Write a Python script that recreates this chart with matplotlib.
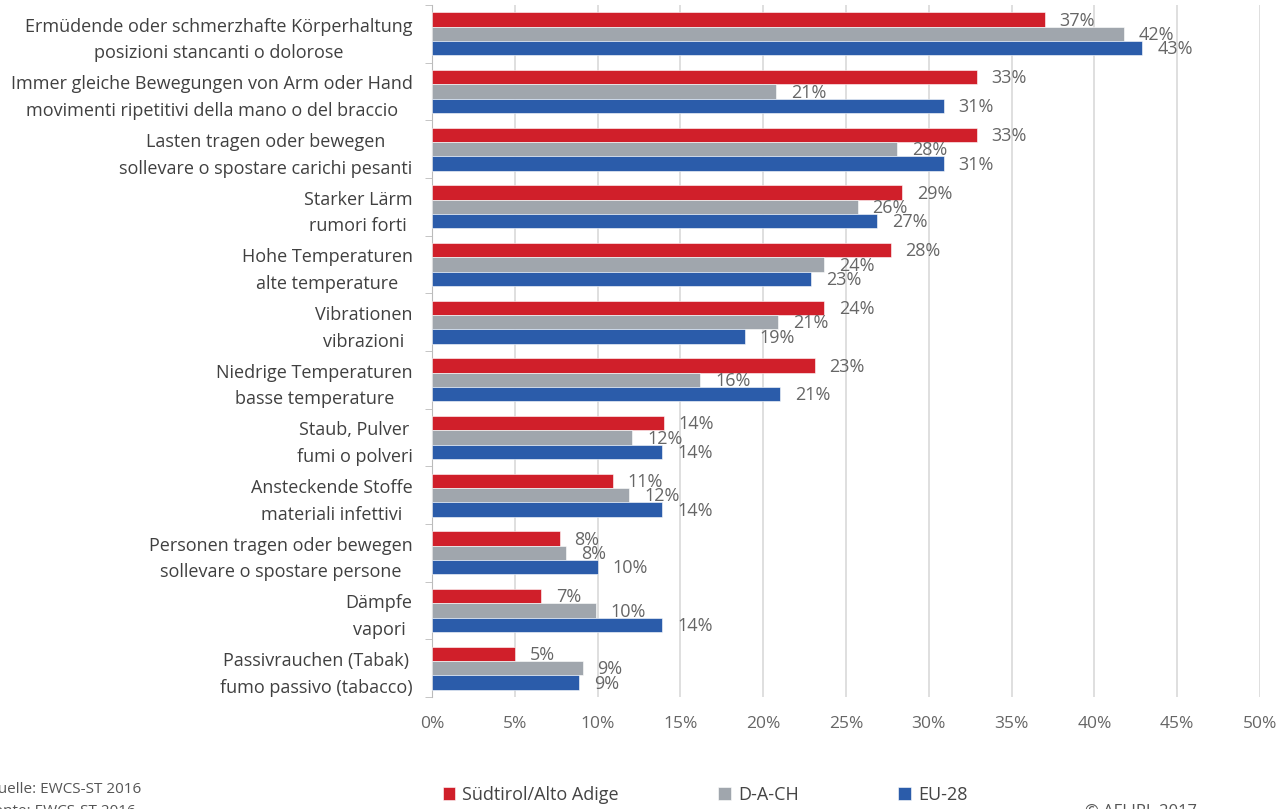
import matplotlib
matplotlib.use("Agg")
import matplotlib.pyplot as plt
import numpy as np

plt.rcParams['font.family'] = ['Open Sans', 'DejaVu Sans']

categories = [
    "Ermüdende oder schmerzhafte Körperhaltung\nposizioni stancanti o dolorose",
    "Immer gleiche Bewegungen von Arm oder Hand\nmovimenti ripetitivi della mano o del braccio",
    "Lasten tragen oder bewegen\nsollevare o spostare carichi pesanti",
    "Starker Lärm\nrumori forti",
    "Hohe Temperaturen\nalte temperature",
    "Vibrationen\nvibrazioni",
    "Niedrige Temperaturen\nbasse temperature",
    "Staub, Pulver\nfumi o polveri",
    "Ansteckende Stoffe\nmateriali infettivi",
    "Personen tragen oder bewegen\nsollevare o spostare persone",
    "Dämpfe\nvapori",
    "Passivrauchen (Tabak)\nfumo passivo (tabacco)",
]
series_names = ["Südtirol/Alto Adige", "D-A-CH", "EU-28"]
suedtirol = [37.0, 32.9, 32.9, 28.4, 27.7, 23.7, 23.1, 14.0, 10.9, 7.7, 6.6, 5.0]
dach = [41.8, 20.8, 28.1, 25.7, 23.7, 20.9, 16.2, 12.1, 11.9, 8.1, 9.9, 9.1]
eu28 = [42.9, 30.9, 30.9, 26.9, 22.9, 18.9, 21.0, 13.9, 13.9, 10.0, 13.9, 8.9]
labels_s = [37, 33, 33, 29, 28, 24, 23, 14, 11, 8, 7, 5]
labels_d = [42, 21, 28, 26, 24, 21, 16, 12, 12, 8, 10, 9]
labels_e = [43, 31, 31, 27, 23, 19, 21, 14, 14, 10, 14, 9]
xticks = [0, 5, 10, 15, 20, 25, 30, 35, 40, 45, 50]

colors = ["#d01f2a", "#a0a6ad", "#2b5caa"]

fig = plt.figure(figsize=(12.84, 8.09), dpi=100)
ax = fig.add_axes([432 / 1284, 1 - 697 / 809, (1260 - 432) / 1284, (697 - 5) / 809])

n = len(categories)
y = np.arange(n)
h = 0.25
data = [suedtirol, dach, eu28]
labs = [labels_s, labels_d, labels_e]
for k in range(3):
    pos = y + (k - 1) * h
    ax.barh(pos, data[k], height=h, color=colors[k], label=series_names[k],
            edgecolor="white", linewidth=0.4, zorder=3)
    for p, v, l in zip(pos, data[k], labs[k]):
        ax.text(v + 0.9, p + 0.02, f"{l}%", va="center", ha="left",
                fontsize=13, color="#666666", zorder=4)

ax.set_ylim(n - 0.5, -0.5)
ax.set_xlim(0, 50)
ax.set_xticks(xticks)
ax.set_xticklabels([f"{t}%" for t in xticks], fontsize=12.5, color="#666666")
ax.set_yticks(y)
ax.set_yticklabels(categories, fontsize=13, color="#404040", linespacing=1.6,
                   multialignment="center")
ax.tick_params(axis="y", length=0, pad=14)
ax.tick_params(axis="x", length=0, pad=14)
ax.set_yticks(np.arange(n + 1) - 0.5, minor=True)
ax.tick_params(axis="y", which="minor", length=5, color="#bbbbbb", direction="out")

ax.grid(axis="x", color="#d9d9d9", linewidth=1.2, zorder=0)
for s in ["top", "right", "bottom"]:
    ax.spines[s].set_visible(False)
ax.spines["left"].set_color("#bbbbbb")

handles, lbls = ax.get_legend_handles_labels()
fig.legend(handles, lbls, loc="center", bbox_to_anchor=(705 / 1284, 1 - 795 / 809),
           ncol=3, frameon=False, fontsize=13, handlelength=0.7, handleheight=0.7,
           columnspacing=5.5, handletextpad=0.4, labelcolor="#444444")

fig.text(-14 / 1284, 1 - 789 / 809, "Quelle: EWCS-ST 2016", fontsize=11,
         color="#555555", va="center", ha="left")
fig.text(-14 / 1284, 1 - 812 / 809, "Fonte: EWCS-ST 2016", fontsize=11,
         color="#555555", va="center", ha="left")
fig.text(1085 / 1284, 1 - 812 / 809, "© AFI IPL 2017", fontsize=12,
         color="#555555", va="center", ha="left")

fig.savefig("out.png", dpi=100)
